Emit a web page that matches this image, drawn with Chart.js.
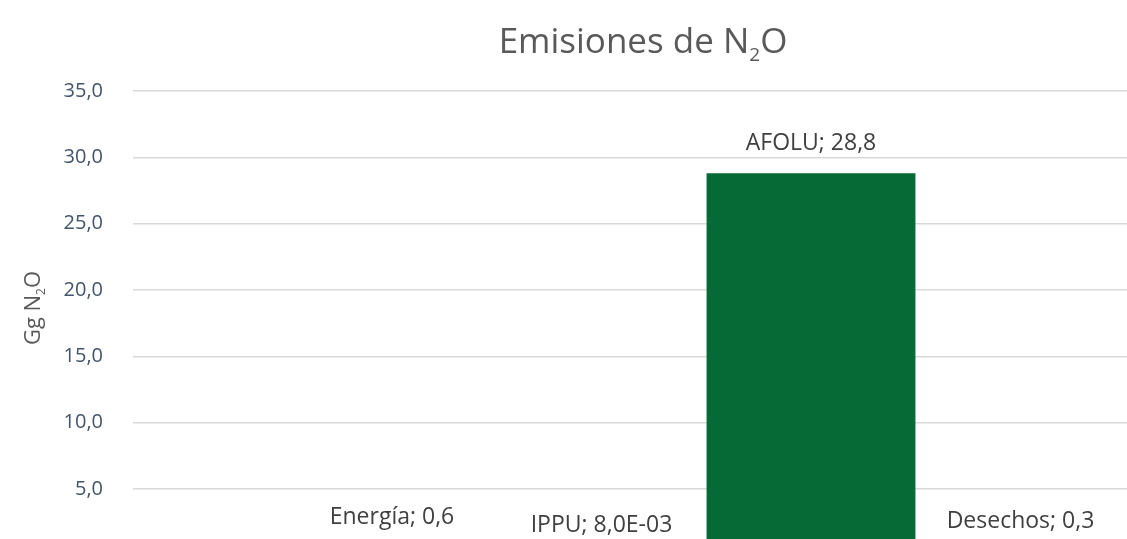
<!DOCTYPE html>
<html>
<head>
<meta charset="utf-8">
<script src="https://cdn.jsdelivr.net/npm/chart.js@4/dist/chart.umd.min.js"></script>
<style>
html,body{margin:0;padding:0;background:#fff;overflow:hidden;}
#wrap{width:1127px;height:539px;position:relative;}
</style>
</head>
<body>
<div id="wrap"><canvas id="c" width="1127" height="539"></canvas></div>
<script>
const categories = ['Energía', 'IPPU', 'AFOLU', 'Desechos'];
const values = [0.6, 0.008, 28.8, 0.3];
const yTicks = [5, 10, 15, 20, 25, 30, 35];
const titleParts = ['Emisiones de N', '2', 'O'];
const yTitleParts = ['Gg N', '2', 'O'];

const FONT = '"Open Sans", "Noto Sans", sans-serif';

function fmt(v) {
  if (v < 0.01) {
    const [m, e] = v.toExponential(1).split('e');
    const n = parseInt(e, 10);
    const s = (n < 0 ? '-' : '+') + String(Math.abs(n)).padStart(2, '0');
    return m.replace('.', ',') + 'E' + s;
  }
  return v.toFixed(1).replace('.', ',');
}

function drawSubText(ctx, parts, size, x, y) {
  ctx.font = size + 'px ' + FONT;
  const w0 = ctx.measureText(parts[0]).width;
  const w2 = ctx.measureText(parts[2]).width;
  const subSize = Math.round(size * 0.55);
  ctx.font = subSize + 'px ' + FONT;
  const w1 = ctx.measureText(parts[1]).width;
  const total = w0 + w1 + w2;
  let sx = x - total / 2;
  ctx.textAlign = 'left';
  ctx.textBaseline = 'alphabetic';
  ctx.font = size + 'px ' + FONT;
  ctx.fillText(parts[0], sx, y);
  sx += w0;
  ctx.font = subSize + 'px ' + FONT;
  ctx.fillText(parts[1], sx, y + size * 0.22);
  sx += w1;
  ctx.font = size + 'px ' + FONT;
  ctx.fillText(parts[2], sx, y);
}

const textPlugin = {
  id: 'texts',
  afterDatasetsDraw(chart) {
    const ctx = chart.ctx;
    const xs = chart.scales.x, ys = chart.scales.y;
    ctx.save();
    ctx.fillStyle = '#404040';
    ctx.font = '23px ' + FONT;
    ctx.textAlign = 'center';
    ctx.textBaseline = 'middle';
    categories.forEach((c, i) => {
      const x = xs.getPixelForValue(i + 1);
      const y = ys.getPixelForValue(values[i]) - 30;
      ctx.fillText(c + '; ' + fmt(values[i]), x, y);
    });
    ctx.fillStyle = '#595959';
    drawSubText(ctx, titleParts, 35, 643, 53);
    ctx.save();
    ctx.translate(40, 308);
    ctx.rotate(-Math.PI / 2);
    ctx.fillStyle = '#595959';
    drawSubText(ctx, yTitleParts, 22, 0, 0);
    ctx.restore();
    ctx.restore();
  }
};

const pxPerCat = 209.5;
const plotLeft = 133, plotRight = 1127, plotTop = 91, plotBottom = 539, firstCenter = 392;
const xMin = 1 - (firstCenter - plotLeft) / pxPerCat;
const xMax = xMin + (plotRight - plotLeft) / pxPerCat;
const yMax = 35;
const yMin = yMax - (plotBottom - plotTop) / 13.27;

new Chart(document.getElementById('c'), {
  type: 'bar',
  data: {
    datasets: [{
      data: values.map((v, i) => ({ x: i + 1, y: v })),
      backgroundColor: '#056a35',
      borderWidth: 0,
      barPercentage: 1,
      categoryPercentage: 0.997
    }]
  },
  options: {
    responsive: false,
    animation: false,
    layout: { padding: { top: plotTop, left: 0, right: 0, bottom: 0 } },
    plugins: { legend: { display: false }, tooltip: { enabled: false }, title: { display: false } },
    scales: {
      x: {
        type: 'linear',
        min: xMin, max: xMax,
        offset: false,
        display: false
      },
      y: {
        min: yMin, max: yMax,
        afterFit(s) { s.width = plotLeft; s.paddingTop = 0; s.paddingBottom = 0; },
        afterBuildTicks(s) { s.ticks = yTicks.map(v => ({ value: v })); },
        border: { display: false },
        grid: { color: '#d9d9d9', lineWidth: 1.5, drawTicks: false },
        ticks: {
          padding: 30,
          color: '#44546a',
          font: { family: FONT, size: 20 },
          callback: v => v.toFixed(1).replace('.', ',')
        }
      }
    }
  },
  plugins: [textPlugin]
});
</script>
</body>
</html>
